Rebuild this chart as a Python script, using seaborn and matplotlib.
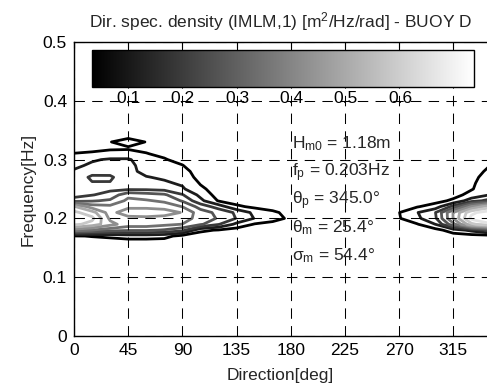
import numpy as np
import matplotlib
matplotlib.use("Agg")
import matplotlib.pyplot as plt
import seaborn as sns
from matplotlib.colors import Normalize
from matplotlib.cm import ScalarMappable

# === DATA ===
directions = [0, 15, 30, 45, 60, 75, 90, 105, 120, 135, 150, 165, 180,
              195, 210, 225, 240, 255, 270, 285, 300, 315, 330, 345, 360]
frequencies = [0.14, 0.15, 0.16, 0.17, 0.18, 0.19, 0.20, 0.21, 0.22, 0.23, 0.24,
               0.25, 0.26, 0.27, 0.28, 0.29, 0.30, 0.31, 0.32, 0.33, 0.34, 0.35]

# directional spectral density, one row per frequency, one column per direction
density = [
    [0] * 25,  # 0.14
    [0] * 25,  # 0.15
    [0] * 25,  # 0.16
    [0.027, 0.037, 0.048, 0.069, 0.069, 0.058, 0.006, 0, 0, 0, 0, 0, 0, 0, 0, 0, 0, 0, 0, 0, 0, 0, 0, 0, 0.027],
    [0.385, 0.343, 0.301, 0.280, 0.280, 0.259, 0.216, 0.048, 0.027, 0, 0, 0, 0, 0, 0, 0, 0, 0, 0, 0, 0.006, 0.069, 0.132, 0.216, 0.385],
    [0.600, 0.550, 0.448, 0.385, 0.385, 0.364, 0.343, 0.280, 0.195, 0.090, 0.027, 0.006, 0, 0, 0, 0, 0, 0, 0, 0.027, 0.111, 0.322, 0.560, 0.640, 0.600],
    [0.650, 0.600, 0.406, 0.385, 0.396, 0.385, 0.385, 0.311, 0.259, 0.185, 0.107, 0.065, 0.016, 0, 0, 0, 0, 0, 0.027, 0.094, 0.174, 0.427, 0.680, 0.740, 0.650],
    [0.600, 0.533, 0.385, 0.490, 0.490, 0.469, 0.417, 0.301, 0.248, 0.174, 0.090, 0.048, 0.006, 0, 0, 0, 0, 0, 0.031, 0.107, 0.185, 0.427, 0.640, 0.700, 0.600],
    [0.511, 0.385, 0.364, 0.396, 0.396, 0.385, 0.343, 0.237, 0.153, 0.048, 0.016, 0, 0, 0, 0, 0, 0, 0, 0, 0.027, 0.069, 0.216, 0.427, 0.550, 0.511],
    [0.237, 0.259, 0.280, 0.364, 0.353, 0.332, 0.259, 0.132, 0.027, 0, 0, 0, 0, 0, 0, 0, 0, 0, 0, 0, 0.006, 0.048, 0.153, 0.216, 0.237],
    [0.153, 0.185, 0.216, 0.322, 0.301, 0.280, 0.195, 0.090, 0, 0, 0, 0, 0, 0, 0, 0, 0, 0, 0, 0, 0, 0.006, 0.058, 0.111, 0.153],
    [0.143, 0.174, 0.174, 0.174, 0.174, 0.164, 0.122, 0.048, 0, 0, 0, 0, 0, 0, 0, 0, 0, 0, 0, 0, 0, 0, 0.027, 0.079, 0.143],
    [0.136, 0.183, 0.185, 0.153, 0.143, 0.122, 0.100, 0.027, 0, 0, 0, 0, 0, 0, 0, 0, 0, 0, 0, 0, 0, 0, 0.022, 0.069, 0.136],
    [0.132, 0.206, 0.200, 0.143, 0.115, 0.100, 0.079, 0.006, 0, 0, 0, 0, 0, 0, 0, 0, 0, 0, 0, 0, 0, 0, 0.016, 0.058, 0.132],
    [0.122, 0.153, 0.164, 0.132, 0.090, 0.079, 0.058, 0, 0, 0, 0, 0, 0, 0, 0, 0, 0, 0, 0, 0, 0, 0, 0, 0.048, 0.122],
    [0.090, 0.128, 0.143, 0.128, 0.086, 0.058, 0.035, 0, 0, 0, 0, 0, 0, 0, 0, 0, 0, 0, 0, 0, 0, 0, 0, 0.031, 0.090],
    [0.058, 0.100, 0.122, 0.122, 0.058, 0.037, 0.016, 0, 0, 0, 0, 0, 0, 0, 0, 0, 0, 0, 0, 0, 0, 0, 0, 0.006, 0.058],
    [0.035, 0.041, 0.044, 0.048, 0.035, 0.022, 0, 0, 0, 0, 0, 0, 0, 0, 0, 0, 0, 0, 0, 0, 0, 0, 0, 0, 0.035],
    [0.010, 0.016, 0.027, 0.027, 0.022, 0.006, 0, 0, 0, 0, 0, 0, 0, 0, 0, 0, 0, 0, 0, 0, 0, 0, 0, 0, 0.010],
    [0, 0.006, 0.031, 0.058, 0.031, 0, 0, 0, 0, 0, 0, 0, 0, 0, 0, 0, 0, 0, 0, 0, 0, 0, 0, 0, 0],
    [0, 0, 0, 0.016, 0, 0, 0, 0, 0, 0, 0, 0, 0, 0, 0, 0, 0, 0, 0, 0, 0, 0, 0, 0, 0],
    [0] * 25,  # 0.35
]

contour_levels = [0.033, 0.111, 0.189, 0.267, 0.345, 0.423, 0.501, 0.580, 0.658, 0.736]
cbar_ticks = [0.1, 0.2, 0.3, 0.4, 0.5, 0.6]
x_ticks = [0, 45, 90, 135, 180, 225, 270, 315]
y_ticks = [0, 0.1, 0.2, 0.3, 0.4, 0.5]
y_tick_labels = ["0", "0.1", "0.2", "0.3", "0.4", "0.5"]
stats_lines = [
    r"H$_{\mathrm{m0}}$ = 1.18m",
    r"f$_{\mathrm{p}}$ = 0.203Hz",
    r"θ$_{\mathrm{p}}$ = 345.0°",
    r"θ$_{\mathrm{m}}$ = 25.4°",
    r"σ$_{\mathrm{m}}$ = 54.4°",
]

# === STYLE ===
sns.set_theme(style="white")
plt.rcParams["font.family"] = ["Liberation Sans", "DejaVu Sans"]
plt.rcParams["mathtext.fontset"] = "custom"
plt.rcParams["mathtext.rm"] = "Liberation Sans"
plt.rcParams["mathtext.it"] = "Liberation Sans:italic"
FS = 12.5

W, H = 487, 392
fig = plt.figure(figsize=(W / 100, H / 100), dpi=100)
fig.patch.set_facecolor("white")
ax = fig.add_axes([74 / W, 56 / H, 413 / W, 294 / H])

norm = Normalize(vmin=contour_levels[0], vmax=contour_levels[-1])
ax.contour(directions, frequencies, np.array(density), levels=contour_levels,
           cmap="gray", norm=norm, linewidths=2.0)

ax.set_xlim(0, 343)
ax.set_ylim(0, 0.5)
ax.set_xticks(x_ticks)
ax.set_yticks(y_ticks)
ax.set_yticklabels(y_tick_labels)
ax.tick_params(direction="in", length=4, width=0.8, color="black", top=True,
               right=False, labelsize=FS, pad=5, labelcolor="black")
ax.grid(True, color="black", linestyle=(0, (10, 7)), linewidth=0.75)
ax.set_axisbelow(False)
for side in ["top", "left", "bottom"]:
    ax.spines[side].set_color("black")
    ax.spines[side].set_linewidth(1.0)
ax.spines["right"].set_visible(False)

ax.set_title(r"Dir. spec. density (IMLM,1) [m$^2$/Hz/rad] - BUOY D", fontsize=FS, pad=10.5)
ax.set_xlabel("Direction[deg]", fontsize=FS, labelpad=7)
ax.set_ylabel("Frequency[Hz]", fontsize=FS, labelpad=5)

# colorbar sitting inside the axes
cax = fig.add_axes([92 / W, 305 / H, 382 / W, 37 / H])
cb = fig.colorbar(ScalarMappable(norm=norm, cmap="gray"), cax=cax,
                  orientation="horizontal", ticks=cbar_ticks)
cb.ax.tick_params(direction="in", length=3, width=0.8, labelsize=FS, pad=3,
                  color="black", labelcolor="black")
cb.outline.set_linewidth(1.0)
cb.outline.set_edgecolor("black")

# wave statistics text block
for i, line in enumerate(stats_lines):
    fig.text(292 / W, 1 - (148 + 28 * i) / H, line, fontsize=FS, va="baseline", ha="left")

fig.savefig("out.png", dpi=100)
